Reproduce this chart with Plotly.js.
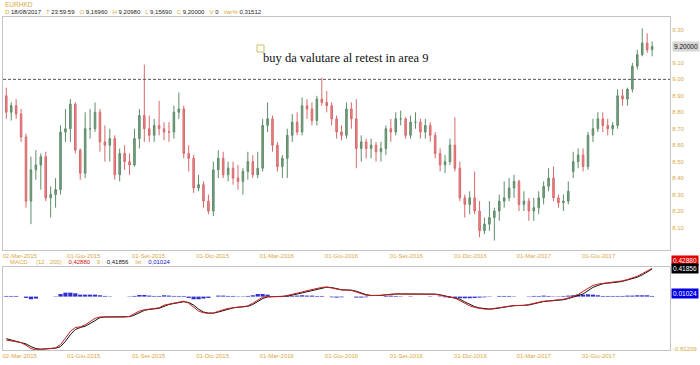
<!DOCTYPE html>
<html>
<head>
<meta charset="utf-8">
<script src="https://cdn.plot.ly/plotly-3.0.1.min.js"></script>
<style>html,body{margin:0;padding:0;background:#fff;}#chart{width:700px;height:365px;}</style>
</head>
<body>
<div id="chart"></div>
<script>
// Weekly candles, first week centred on Wed 11 Feb 2015
const firstWeek = '2015-02-11';
const openP  = [8.90,8.80,8.84,8.79,8.65,8.26,8.45,8.48,8.53,8.28,8.30,8.33,8.68,8.70,8.85,8.57,8.43,8.70,8.70,8.80,8.62,8.60,8.64,8.42,8.55,8.50,8.48,8.64,8.78,8.70,8.66,8.72,8.70,8.68,8.68,8.80,8.82,8.55,8.52,8.34,8.36,8.26,8.20,8.45,8.52,8.42,8.46,8.40,8.38,8.44,8.50,8.42,8.46,8.72,8.76,8.60,8.47,8.52,8.66,8.74,8.68,8.84,8.82,8.75,8.88,8.86,8.84,8.76,8.68,8.66,8.82,8.76,8.58,8.62,8.58,8.60,8.56,8.58,8.70,8.68,8.76,8.76,8.66,8.74,8.74,8.68,8.72,8.66,8.55,8.48,8.50,8.60,8.46,8.28,8.24,8.28,8.20,8.08,8.12,8.16,8.20,8.26,8.28,8.34,8.38,8.24,8.26,8.20,8.22,8.28,8.35,8.40,8.28,8.25,8.26,8.44,8.50,8.54,8.47,8.66,8.70,8.76,8.72,8.70,8.72,8.90,8.88,8.94,9.08,9.15,9.22,9.18];
const highP  = [8.95,8.86,8.88,8.82,8.67,8.53,8.57,8.55,8.56,8.35,8.40,8.72,8.82,8.88,8.86,8.58,8.80,8.82,8.86,8.82,8.72,8.70,8.66,8.58,8.60,8.55,8.70,8.82,9.09,8.78,8.76,8.87,8.74,8.74,8.84,8.92,8.84,8.60,8.54,8.42,8.38,8.30,8.50,8.57,8.56,8.50,8.50,8.48,8.46,8.56,8.54,8.56,8.76,8.86,8.78,8.62,8.54,8.70,8.79,8.80,8.89,8.88,8.86,8.90,9.01,8.93,8.86,8.78,8.72,8.86,8.86,8.88,8.66,8.64,8.64,8.62,8.62,8.72,8.76,8.80,8.81,8.77,8.78,8.80,8.76,8.76,8.74,8.68,8.58,8.54,8.64,8.77,8.50,8.30,8.32,8.44,8.26,8.16,8.26,8.22,8.30,8.38,8.40,8.42,8.39,8.32,8.28,8.28,8.32,8.38,8.46,8.47,8.30,8.30,8.38,8.56,8.58,8.58,8.68,8.76,8.80,8.80,8.76,8.74,8.94,8.94,8.95,9.10,9.18,9.31,9.28,9.23];
const lowP   = [8.76,8.75,8.76,8.62,8.22,8.12,8.39,8.33,8.26,8.16,8.22,8.30,8.62,8.62,8.55,8.39,8.40,8.64,8.68,8.56,8.50,8.50,8.39,8.38,8.45,8.42,8.47,8.58,8.62,8.62,8.62,8.66,8.63,8.62,8.64,8.76,8.52,8.44,8.31,8.32,8.22,8.18,8.17,8.40,8.40,8.38,8.36,8.33,8.30,8.39,8.40,8.40,8.44,8.68,8.56,8.44,8.40,8.40,8.62,8.66,8.66,8.76,8.72,8.72,8.84,8.80,8.72,8.64,8.63,8.64,8.70,8.46,8.50,8.52,8.52,8.50,8.50,8.54,8.62,8.66,8.72,8.64,8.64,8.70,8.64,8.64,8.62,8.52,8.44,8.43,8.48,8.44,8.26,8.16,8.18,8.18,8.04,8.06,8.08,8.02,8.14,8.22,8.26,8.28,8.20,8.20,8.14,8.14,8.18,8.24,8.32,8.26,8.22,8.20,8.24,8.40,8.46,8.44,8.45,8.62,8.68,8.68,8.66,8.66,8.70,8.84,8.84,8.92,9.06,9.14,9.16,9.14];
const closeP = [8.80,8.84,8.79,8.65,8.26,8.45,8.48,8.53,8.28,8.30,8.33,8.68,8.70,8.85,8.57,8.43,8.70,8.70,8.80,8.62,8.60,8.64,8.42,8.55,8.50,8.48,8.64,8.78,8.70,8.66,8.72,8.70,8.68,8.68,8.80,8.82,8.55,8.52,8.34,8.36,8.26,8.20,8.45,8.52,8.42,8.46,8.40,8.38,8.44,8.50,8.42,8.46,8.72,8.76,8.60,8.47,8.52,8.66,8.74,8.68,8.84,8.82,8.75,8.88,8.86,8.84,8.76,8.68,8.66,8.82,8.76,8.58,8.62,8.58,8.60,8.56,8.58,8.70,8.68,8.76,8.76,8.66,8.74,8.74,8.68,8.72,8.66,8.55,8.48,8.50,8.60,8.46,8.28,8.24,8.28,8.20,8.08,8.12,8.16,8.20,8.26,8.28,8.34,8.38,8.24,8.26,8.20,8.22,8.28,8.35,8.40,8.28,8.25,8.26,8.32,8.50,8.54,8.47,8.66,8.70,8.76,8.72,8.70,8.72,8.90,8.88,8.94,9.08,9.15,9.22,9.18,9.20];

const macdLine   = [-0.66,-0.675,-0.68,-0.70,-0.74,-0.79,-0.81,-0.80,-0.79,-0.79,-0.78,-0.73,-0.62,-0.53,-0.47,-0.46,-0.43,-0.38,-0.33,-0.31,-0.305,-0.31,-0.31,-0.315,-0.31,-0.30,-0.26,-0.22,-0.20,-0.19,-0.185,-0.17,-0.13,-0.11,-0.10,-0.085,-0.07,-0.10,-0.16,-0.22,-0.245,-0.255,-0.25,-0.22,-0.20,-0.18,-0.165,-0.16,-0.155,-0.14,-0.10,-0.05,-0.01,0.0,-0.005,0.0,0.0,0.015,0.03,0.05,0.07,0.09,0.11,0.125,0.14,0.146,0.13,0.11,0.10,0.10,0.095,0.07,0.04,0.02,0.015,0.015,0.02,0.03,0.04,0.04,0.04,0.04,0.04,0.04,0.04,0.04,0.04,0.035,0.02,0.0,-0.01,-0.02,-0.06,-0.10,-0.14,-0.165,-0.18,-0.19,-0.19,-0.18,-0.165,-0.15,-0.14,-0.135,-0.135,-0.135,-0.12,-0.10,-0.08,-0.07,-0.065,-0.06,-0.055,-0.04,-0.02,0.01,0.03,0.08,0.12,0.17,0.19,0.20,0.21,0.215,0.225,0.24,0.26,0.28,0.31,0.35,0.39,0.4288];
const signalLine = [-0.64,-0.66,-0.675,-0.69,-0.72,-0.76,-0.79,-0.80,-0.795,-0.79,-0.785,-0.76,-0.68,-0.58,-0.50,-0.47,-0.45,-0.41,-0.36,-0.32,-0.31,-0.31,-0.31,-0.312,-0.312,-0.305,-0.28,-0.24,-0.21,-0.195,-0.188,-0.178,-0.15,-0.12,-0.105,-0.092,-0.078,-0.088,-0.13,-0.19,-0.235,-0.25,-0.252,-0.235,-0.21,-0.19,-0.172,-0.162,-0.158,-0.148,-0.12,-0.075,-0.03,-0.005,-0.003,-0.002,0.0,0.008,0.022,0.04,0.06,0.08,0.10,0.118,0.133,0.143,0.138,0.12,0.105,0.10,0.098,0.082,0.055,0.03,0.018,0.015,0.018,0.025,0.035,0.04,0.04,0.04,0.04,0.04,0.04,0.04,0.04,0.038,0.028,0.01,-0.005,-0.015,-0.04,-0.08,-0.12,-0.152,-0.172,-0.185,-0.19,-0.185,-0.172,-0.158,-0.145,-0.138,-0.135,-0.135,-0.128,-0.11,-0.09,-0.075,-0.068,-0.062,-0.058,-0.048,-0.03,-0.005,0.01,0.04,0.09,0.14,0.17,0.195,0.205,0.21,0.22,0.232,0.25,0.27,0.295,0.33,0.37,0.4186];
const histBars   = [0.01,0.01,0.01,0.0,-0.02,-0.04,-0.03,0.0,0.0,0.0,0.005,0.04,0.06,0.06,0.05,0.03,0.03,0.03,0.03,0.02,0.01,0.005,0.0,0.0,0.0,0.005,0.01,0.025,0.025,0.015,0.01,0.01,0.02,0.015,0.01,0.01,0.01,-0.02,-0.04,-0.04,-0.03,-0.02,0.0,0.015,0.015,0.01,0.01,0.005,0.005,0.01,0.02,0.04,0.04,0.03,0.005,0.0,0.0,0.01,0.01,0.015,0.02,0.015,0.015,0.01,0.01,0.0,-0.01,-0.015,-0.01,0.0,0.0,-0.015,-0.015,-0.01,0.0,0.0,0.0,0.01,0.015,0.01,0.005,0.0,0.005,0.0,0.0,0.0,0.005,0.0,-0.005,-0.01,-0.015,-0.02,-0.025,-0.025,-0.025,-0.02,-0.015,-0.01,-0.005,0.0,0.01,0.01,0.01,0.005,0.0,0.0,0.005,0.01,0.01,0.015,0.01,0.005,0.005,0.01,0.015,0.02,0.03,0.03,0.035,0.03,0.02,0.01,0.01,0.01,0.01,0.01,0.015,0.015,0.02,0.02,0.02,0.01024];

const tickDates  = ['2015-03-02','2015-06-01','2015-09-01','2015-12-01','2016-03-01','2016-06-01','2016-09-01','2016-12-01','2017-03-01','2017-06-01'];
const tickLabels = ['02-Mar-2015','01-Giu-2015','01-Set-2015','01-Dic-2015','01-Mar-2016','01-Giu-2016','01-Set-2016','01-Dic-2016','01-Mar-2017','01-Giu-2017'];
const priceTicks = [8.1,8.2,8.3,8.4,8.5,8.6,8.7,8.8,8.9,9.0,9.1,9.2,9.3];
const priceTickLabels = ['8.10','8.20','8.30','8.40','8.50','8.60','8.70','8.80','8.90','9.00','9.10','','9.30'];

const dates = [];
const t0 = Date.parse(firstWeek + 'T00:00:00Z');
for (let i = 0; i < closeP.length; i++) {
  dates.push(new Date(t0 + i * 7 * 86400000).toISOString().slice(0, 10));
}

const GOLD = '#d9a845';
const F = 'Liberation Sans, Arial, sans-serif';
const xr = ['2015-02-06 08:00', '2017-09-10 10:00'];

const traces = [
  {type:'candlestick', x:dates, open:openP, high:highP, low:lowP, close:closeP,
   xaxis:'x', yaxis:'y', whiskerwidth:0, hoverinfo:'skip',
   increasing:{line:{color:'#5e8d6a', width:1}, fillcolor:'#7a9e82'},
   decreasing:{line:{color:'#d9686b', width:1}, fillcolor:'#e68a8c'}},
  {type:'bar', x:dates, y:histBars, xaxis:'x2', yaxis:'y2', marker:{color:'#2f2fd0', line:{width:0}}, hoverinfo:'skip'},
  {type:'scatter', mode:'lines', x:dates, y:signalLine, xaxis:'x2', yaxis:'y2', line:{color:'#111111', width:1}, hoverinfo:'skip'},
  {type:'scatter', mode:'lines', x:dates, y:macdLine, xaxis:'x2', yaxis:'y2', line:{color:'#c81e1e', width:1}, hoverinfo:'skip'}
];

const pxX = p => (p - 3) / 667;
const pxY = p => (350 - p) / 333;

const axisX = {range:xr, tickmode:'array', tickvals:tickDates, ticktext:tickLabels, ticks:'', showgrid:false, zeroline:false,
  showline:true, linecolor:'#c4c4c4', linewidth:1, mirror:true, tickfont:{family:F, size:6, color:GOLD}, fixedrange:true};

const layout = {
  width:700, height:365, margin:{l:3, r:30, t:17, b:15},
  paper_bgcolor:'#ffffff', plot_bgcolor:'#ffffff', showlegend:false, bargap:0.15, boxgap:0.55,
  xaxis:Object.assign({}, axisX, {anchor:'y', rangeslider:{visible:false}}),
  xaxis2:Object.assign({}, axisX, {anchor:'y2', matches:'x'}),
  yaxis:{domain:[0.3003,1], range:[7.963,9.379], side:'right', tickmode:'array', tickvals:priceTicks, ticktext:priceTickLabels,
    ticks:'', showgrid:false, zeroline:false, showline:true, linecolor:'#c4c4c4', mirror:true,
    tickfont:{family:F, size:6, color:GOLD}},
  yaxis2:{domain:[0,0.2492], range:[-0.812,0.45], side:'right', showticklabels:false, ticks:'', showgrid:false, zeroline:false,
    showline:true, linecolor:'#c4c4c4', mirror:true},
  shapes:[
    {type:'line', xref:'paper', yref:'y', x0:0, x1:1, y0:9.0, y1:9.0, line:{color:'#555555', width:1, dash:'3px,2px'}},
    {type:'rect', xref:'paper', yref:'paper', x0:pxX(257), x1:pxX(264), y0:pxY(52), y1:pxY(45), line:{color:'#cfc060', width:1}, fillcolor:'rgba(0,0,0,0)'}
  ],
  annotations:[
    {xref:'paper', yref:'paper', x:pxX(261), y:pxY(58), xanchor:'left', yanchor:'middle', showarrow:false,
     text:'buy da valutare al retest in area 9', font:{family:'Liberation Serif, Times New Roman, serif', size:12.5, color:'#111111'}},
    {xref:'paper', yref:'paper', x:pxX(3), y:pxY(5), xanchor:'left', yanchor:'middle', showarrow:false,
     text:'EURHKD', font:{family:F, size:6.5, color:GOLD}},
    {xref:'paper', yref:'paper', x:pxX(3), y:pxY(12.5), xanchor:'left', yanchor:'middle', showarrow:false,
     text:'<span style="color:'+GOLD+'">D</span> 18/08/2017   <span style="color:'+GOLD+'">T</span> 23:59:59   <span style="color:'+GOLD+'">O</span> 9,16960   <span style="color:'+GOLD+'">H</span> 9,20980   <span style="color:'+GOLD+'">L</span> 9,15690   <span style="color:'+GOLD+'">C</span> 9,20000   <span style="color:'+GOLD+'">V</span> 0   <span style="color:'+GOLD+'">Var%</span> 0,31512',
     font:{family:F, size:6, color:'#222222'}},
    {xref:'paper', yref:'y', x:1, y:9.2, xanchor:'left', yanchor:'middle', xshift:2, showarrow:false,
     text:'9.20000', bgcolor:'#d6d6d6', borderpad:1, font:{family:F, size:6.5, color:'#111111'}},
    {xref:'paper', yref:'paper', x:pxX(8), y:pxY(262), xanchor:'left', yanchor:'middle', showarrow:false,
     text:'<span style="color:'+GOLD+'">MACD     (12 , 200) :</span>  <span style="color:#d01010">0,42880</span>    <span style="color:'+GOLD+'">9 :</span>  <span style="color:#111">0,41856</span>    <span style="color:'+GOLD+'">Ist :</span>  <span style="color:#1010d0">0,01024</span>',
     font:{family:F, size:6, color:GOLD}},
    {xref:'paper', yref:'paper', x:1, y:pxY(260), xanchor:'left', yanchor:'middle', xshift:1, showarrow:false,
     text:'0.42880', bgcolor:'#e00000', borderpad:1, font:{family:F, size:6.5, color:'#ffffff'}},
    {xref:'paper', yref:'paper', x:1, y:pxY(268), xanchor:'left', yanchor:'middle', xshift:1, showarrow:false,
     text:'0.41856', bgcolor:'#000000', borderpad:1, font:{family:F, size:6.5, color:'#ffffff'}},
    {xref:'paper', yref:'paper', x:1, y:pxY(293.5), xanchor:'left', yanchor:'middle', xshift:1, showarrow:false,
     text:'0.01024', bgcolor:'#0000e6', borderpad:1, font:{family:F, size:6.5, color:'#ffffff'}},
    {xref:'paper', yref:'paper', x:1, y:pxY(349), xanchor:'left', yanchor:'middle', xshift:1, showarrow:false,
     text:'-0.81209', font:{family:F, size:6, color:GOLD}}
  ]
};

Plotly.newPlot('chart', traces, layout, {staticPlot:true, displayModeBar:false});
</script>
</body>
</html>
